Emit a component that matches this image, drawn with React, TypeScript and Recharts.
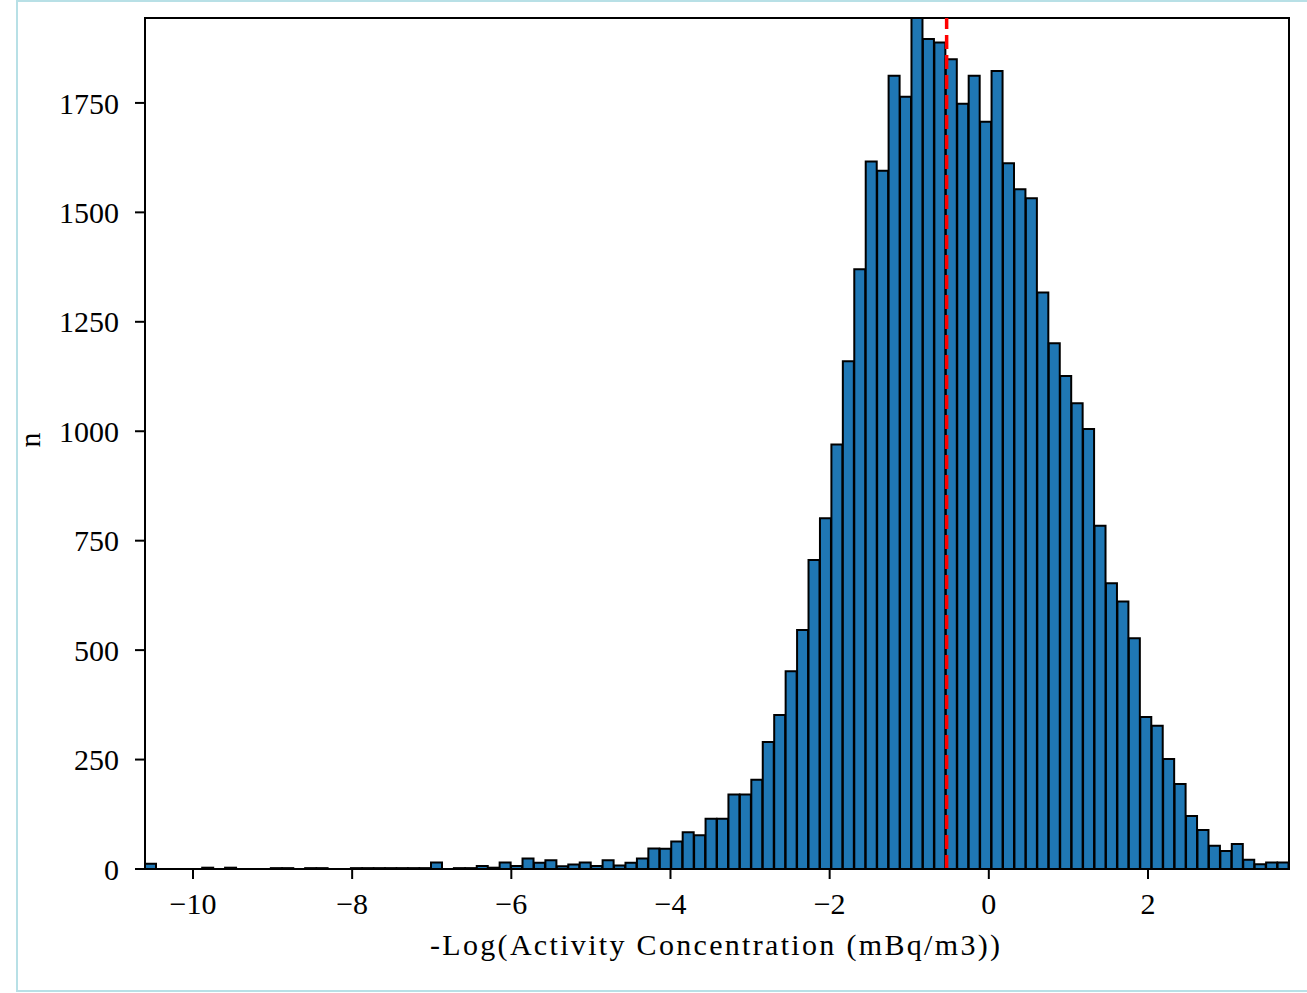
import React from "react";
import { BarChart, Bar, XAxis, YAxis, ReferenceLine, ReferenceArea } from "recharts";

// histogram of -log activity concentration, 100 equal bins between X_MIN and X_MAX
const X_MIN = -10.603;
const X_MAX = 3.772;
const COUNTS = [
  12, 0, 0, 0, 0, 3, 0, 3, 0, 0,
  0, 2, 2, 0, 2, 2, 0, 0, 2, 2,
  2, 2, 2, 2, 2, 15, 0, 2, 2, 7,
  3, 15, 7, 24, 14, 20, 6, 10, 15, 7,
  20, 8, 14, 24, 47, 46, 63, 84, 77, 115,
  115, 170, 170, 204, 290, 352, 452, 546, 706, 801,
  970, 1160, 1370, 1616, 1595, 1812, 1764, 1944, 1896, 1888,
  1850, 1748, 1812, 1707, 1823, 1612, 1553, 1532, 1317, 1201,
  1126, 1064, 1005, 784, 653, 611, 527, 347, 327, 251,
  194, 121, 89, 53, 41, 57, 21, 11, 15, 15,
];
const MEDIAN = -0.53;
const X_TICKS = [-10, -8, -6, -4, -2, 0, 2];
const Y_TICKS = [0, 250, 500, 750, 1000, 1250, 1500, 1750];
const Y_MAX = 1944;

const binWidth = (X_MAX - X_MIN) / COUNTS.length;
const data = COUNTS.map((n, i) => ({ x: X_MIN + (i + 0.5) * binWidth, n }));

const FONT = "'Liberation Serif', 'DejaVu Serif', serif";
const tickStyle = { fill: "#000", fontSize: 30, fontFamily: FONT };

export default function App() {
  return (
    <div style={{ position: "absolute", left: 0, top: 0, width: 1307, height: 993, background: "#fff" }}>
      <BarChart
        width={1307}
        height={993}
        data={data}
        margin={{ top: 18, right: 18, bottom: 64, left: 0 }}
        barCategoryGap={0}
        barGap={0}
      >
        <XAxis
          dataKey="x"
          type="number"
          domain={[X_MIN, X_MAX]}
          ticks={X_TICKS}
          allowDataOverflow
          height={60}
          tick={tickStyle}
          tickSize={10}
          tickMargin={14}
          tickLine={{ stroke: "#000", strokeWidth: 2 }}
          axisLine={{ stroke: "#000", strokeWidth: 2 }}
          tickFormatter={(v) => String(v).replace("-", "\u2212")}
        />
        <YAxis
          type="number"
          domain={[0, Y_MAX]}
          ticks={Y_TICKS}
          allowDataOverflow
          width={145}
          tick={tickStyle}
          tickSize={10}
          tickMargin={16}
          tickLine={{ stroke: "#000", strokeWidth: 2 }}
          axisLine={{ stroke: "#000", strokeWidth: 2 }}
        />
        <Bar dataKey="n" fill="#1f77b4" stroke="#000" strokeWidth={2} isAnimationActive={false} />
        <ReferenceLine x={MEDIAN} stroke="#ff0000" strokeWidth={3.5} strokeDasharray="14 6" />
        <ReferenceArea x1={X_MIN} x2={X_MAX} y1={0} y2={Y_MAX} fill="none" fillOpacity={0} stroke="#000" strokeWidth={2} />
      </BarChart>
      <svg
        width={1307}
        height={993}
        style={{ position: "absolute", left: 0, top: 0, pointerEvents: "none" }}
      >
        <rect x={17} y={1} width={1295} height={990} fill="none" stroke="#b8e0e6" strokeWidth={2} />
        <text x={715} y={955} textAnchor="middle" fontFamily={FONT} fontSize={30} fill="#000" textLength={570}>
          -Log(Activity Concentration (mBq/m3))
        </text>
        <text x={40} y={440} textAnchor="middle" fontFamily={FONT} fontSize={30} fill="#000" transform="rotate(-90 40 440)">
          n
        </text>
      </svg>
    </div>
  );
}
